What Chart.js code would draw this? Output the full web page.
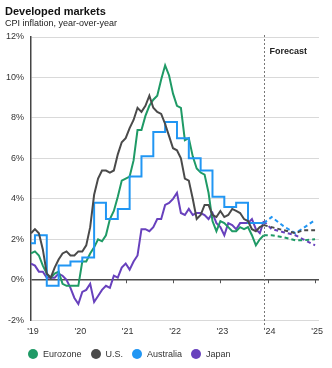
<!DOCTYPE html>
<html><head><meta charset="utf-8">
<script src="https://cdn.jsdelivr.net/npm/chart.js@4"></script>
<style>
html,body{margin:0;padding:0;background:#fff;}
body{width:332px;height:368px;position:relative;overflow:hidden;font-family:"Liberation Sans",Arial,sans-serif;}
#title{position:absolute;left:5px;top:5px;font-size:11px;font-weight:bold;color:#111;white-space:nowrap;}
#subtitle{position:absolute;left:5px;top:18px;font-size:9px;color:#222;white-space:nowrap;}
#wrap{position:absolute;left:0;top:0;width:332px;height:368px;}
#legend{position:absolute;left:28px;top:349px;display:flex;align-items:center;font-size:9px;color:#333;white-space:nowrap;}
.item{display:flex;align-items:center;margin-right:9px;}
.dot{width:10px;height:10px;border-radius:50%;margin-right:5px;}
</style></head>
<body>
<div id="wrap"><canvas id="c" width="332" height="368"></canvas></div>
<div id="title">Developed markets</div>
<div id="subtitle">CPI inflation, year-over-year</div>
<div id="legend"></div>
<script>
// Tick labels on the x axis (one per year)
const yearLabels = ["'19","'20","'21","'22","'23","'24","'25"];
const yTickMin = -2, yTickMax = 12, yTickStep = 2;

// Monthly actuals (index 0 = first month on the chart)
const eurozone = [1.3,
 1.4,1.2,0.7,0.3,0.1,0.3,0.4,-0.2,-0.3,-0.3,-0.3,-0.3,
 0.9,0.9,1.3,1.6,2.0,1.9,2.2,3.0,3.4,4.1,4.9,5.0,
 5.1,5.9,7.4,7.4,8.1,8.6,8.9,9.1,9.9,10.6,10.1,9.2,
 8.6,8.5,6.9,7.0,6.1,5.5,5.3,5.2,4.3,2.9,2.4,2.9,
 2.8,2.6,2.4,2.4,2.6,2.5,2.6,2.2,1.7,2.0,2.2];
const us = [2.3,
 2.5,2.3,1.5,0.3,0.1,0.6,1.0,1.3,1.4,1.2,1.2,1.4,
 1.4,1.7,2.6,4.2,5.0,5.4,5.4,5.3,5.4,6.2,6.8,7.0,
 7.5,7.9,8.5,8.3,8.6,9.1,8.5,8.3,8.2,7.7,7.1,6.5,
 6.4,6.0,5.0,4.9,4.0,3.0,3.2,3.7,3.7,3.2,3.1,3.4,
 3.1,3.2,3.5,3.4,3.3,3.0,2.9,2.5,2.4,2.6,2.7];
const australia = [1.8,
 2.2,2.2,2.2,-0.3,-0.3,-0.3,0.7,0.7,0.7,0.9,0.9,0.9,
 1.1,1.1,1.1,3.8,3.8,3.8,3.0,3.0,3.0,3.5,3.5,3.5,
 5.1,5.1,5.1,6.1,6.1,6.1,7.3,7.3,7.3,7.8,7.8,7.8,
 7.0,7.0,7.0,6.0,6.0,6.0,5.4,5.4,5.4,4.1,4.1,4.1,
 3.6,3.6,3.6,3.8,3.8,3.8,2.8,2.8,2.8,2.8,2.8];
const japan = [0.8,
 0.7,0.4,0.4,0.1,0.1,0.1,0.3,0.2,0.0,-0.4,-0.9,-1.2,
 -0.6,-0.5,-0.2,-1.1,-0.8,-0.5,-0.3,-0.4,0.2,0.1,0.6,0.8,
 0.5,0.9,1.2,2.5,2.5,2.4,2.6,3.0,3.0,3.7,3.8,4.0,
 4.3,3.3,3.2,3.5,3.2,3.3,3.3,3.2,3.0,3.3,2.8,2.6,
 2.2,2.8,2.7,2.5,2.8,2.8,2.8,3.0,2.5,2.3,2.9];

// Forecast paths
const forecastStart = 59;
const forecastMonths = [59,61,64,67,69,72];
const eurozoneF = [2.2,2.2,2.1,1.95,1.95,2.0];
const usF = [2.7,2.6,2.45,2.3,2.45,2.45];
const australiaF = [2.8,3.1,2.65,2.3,2.55,2.95];
const japanF = [2.9,2.5,2.35,2.2,2.0,1.7];

const seriesNames = ['Eurozone','U.S.','Australia','Japan'];
const colors = ['#1f9a66','#4a4a4a','#2196f3','#6841bd'];

const toPts = arr => arr.map((v,i)=>({x:i,y:v}));
const toFPts = arr => arr.map((v,i)=>({x:forecastMonths[i],y:v}));

const actual = [eurozone, us, australia, japan];
const fc = [eurozoneF, usF, australiaF, japanF];
const order = [1,2,0,3];
const datasets = [];
order.forEach(k=>{
  datasets.push({label:seriesNames[k], data:toPts(actual[k]), borderColor:colors[k], borderWidth:2,
    pointRadius:0, tension:0, stepped: k===2 ? true : false, fill:false});
});
order.forEach(k=>{
  datasets.push({label:seriesNames[k]+' forecast', data:toFPts(fc[k]), borderColor:colors[k], borderWidth:2,
    borderDash:[4,3], pointRadius:0, tension:0, fill:false});
});

const decor = {
  id:'decor',
  beforeDatasetsDraw(chart){
    const {ctx, chartArea:a, scales:{x,y}} = chart;
    const y0 = y.getPixelForValue(0);
    ctx.save();
    ctx.strokeStyle='#555'; ctx.lineWidth=1;
    x.ticks.forEach(t=>{
      if (t.value===0) return;
      const px = Math.round(x.getPixelForValue(t.value))+0.5;
      ctx.beginPath(); ctx.moveTo(px,y0); ctx.lineTo(px,y0+3.5); ctx.stroke();
    });
    const fx = Math.round(x.getPixelForValue(forecastStart))+0.5;
    ctx.setLineDash([2,2]); ctx.strokeStyle='#777';
    ctx.beginPath(); ctx.moveTo(fx,a.top-2); ctx.lineTo(fx,a.bottom+7); ctx.stroke();
    ctx.setLineDash([]);
    ctx.fillStyle='#222'; ctx.font='bold 9px "Liberation Sans", Arial, sans-serif';
    ctx.textBaseline='middle'; ctx.textAlign='left';
    ctx.fillText('Forecast', fx+5, a.top+15);
    ctx.restore();
  }
};

Chart.defaults.font.family = '"Liberation Sans", Arial, sans-serif';
new Chart(document.getElementById('c'), {
  type:'line',
  data:{datasets},
  options:{
    responsive:false, animation:false, devicePixelRatio:1,
    layout:{padding:{left:0,right:13,top:37,bottom:25}},
    plugins:{legend:{display:false}, tooltip:{enabled:false}},
    scales:{
      x:{type:'linear', min:0, max:73,
        grid:{display:false, drawTicks:false},
        border:{display:false},
        ticks:{stepSize:12, includeBounds:false, padding:6, labelOffset:2, color:'#333', font:{size:9},
          maxRotation:0, autoSkip:false,
          callback:(v)=> yearLabels[v/12]}
      },
      y:{min:yTickMin, max:yTickMax,
        afterFit(s){ s.width = 31; },
        grid:{drawTicks:false, color:c=> c.tick && c.tick.value===0 ? '#4d4d4d' : '#d9d9d9',
          lineWidth:c=> c.tick && c.tick.value===0 ? 1.5 : 1},
        border:{display:true, color:'#444', width:1.5},
        ticks:{stepSize:yTickStep, padding:7, color:'#333', font:{size:9}, callback:v=> v+'%'}
      }
    }
  },
  plugins:[decor]
});

const lg = document.getElementById('legend');
seriesNames.forEach((n,k)=>{
  const it = document.createElement('div'); it.className='item';
  const d = document.createElement('span'); d.className='dot'; d.style.background=colors[k];
  const t = document.createElement('span'); t.textContent=n;
  it.appendChild(d); it.appendChild(t); lg.appendChild(it);
});
</script>
</body></html>
